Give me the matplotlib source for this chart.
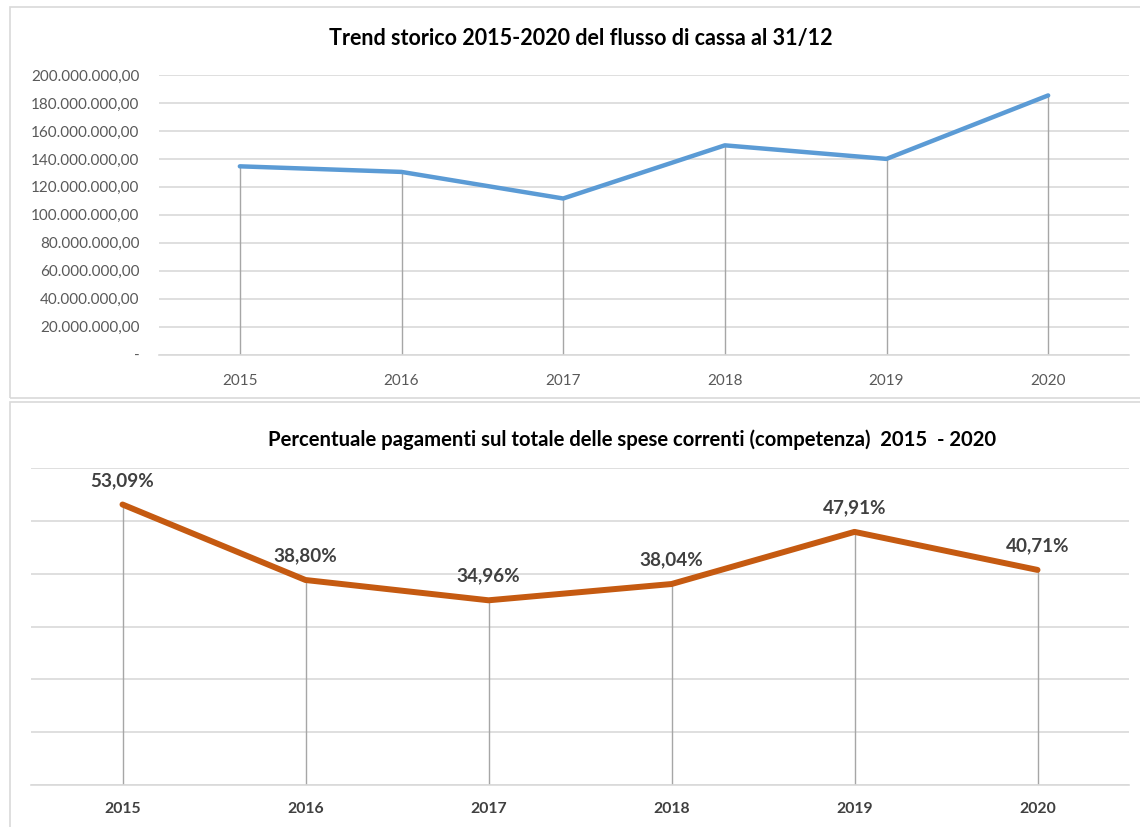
import numpy as np
import matplotlib.pyplot as plt
from matplotlib.patches import Rectangle
from matplotlib.ticker import FuncFormatter

plt.rcParams['font.family'] = ['Lato', 'DejaVu Sans']

# dati
anni = ['2015', '2016', '2017', '2018', '2019', '2020']
flusso_cassa = [134.7e6, 130.7e6, 111.7e6, 149.7e6, 140.0e6, 185.4e6]
perc_pagamenti = [53.09, 38.80, 34.96, 38.04, 47.91, 40.71]
perc_labels = ['53,09%', '38,80%', '34,96%', '38,04%', '47,91%', '40,71%']

W, H = 1140, 827
fig = plt.figure(figsize=(W / 100, H / 100), dpi=100)

def px_axes(left, top, right, bottom):
    return fig.add_axes([left / W, 1 - bottom / H, (right - left) / W, (bottom - top) / H])

def euro_fmt(v, pos):
    if v == 0:
        return '-'
    s = f"{v:,.2f}"
    return s.replace(',', 'X').replace('.', ',').replace('X', '.')

grid_c = '#d9d9d9'
drop_c = '#a6a6a6'

# cornici dei due grafici
fig.patches.append(Rectangle((10 / W, 1 - 398 / H), 1135 / W, 391 / H, transform=fig.transFigure,
                             fill=False, edgecolor=grid_c, linewidth=1.2))
fig.patches.append(Rectangle((10 / W, 1 - 830 / H), 1135 / W, 428 / H, transform=fig.transFigure,
                             fill=False, edgecolor=grid_c, linewidth=1.2))

# --- grafico superiore ---
ax1 = px_axes(159, 75, 1129, 354.7)
x = np.arange(len(anni))
ax1.vlines(x, 0, flusso_cassa, color=drop_c, linewidth=1)
ax1.plot(x, flusso_cassa, color='#5b9bd5', linewidth=3.2, solid_capstyle='round', zorder=3)
ax1.set_xlim(-0.5, len(anni) - 0.5)
ax1.set_ylim(0, 200e6)
ax1.set_yticks(np.arange(0, 200e6 + 1, 20e6))
ax1.yaxis.set_major_formatter(FuncFormatter(euro_fmt))
ax1.set_xticks(x)
ax1.set_xticklabels(anni)
ax1.grid(axis='y', color=grid_c, linewidth=1.2)
ax1.set_axisbelow(True)
for s in ['top', 'right', 'left']:
    ax1.spines[s].set_visible(False)
ax1.spines['bottom'].set_color(grid_c)
ax1.spines['bottom'].set_linewidth(1.2)
ax1.tick_params(axis='both', length=0, labelsize=11, colors='#595959')
ax1.tick_params(axis='y', pad=14)
ax1.tick_params(axis='x', pad=14)
fig.text(581 / W, 1 - 38 / H, 'Trend storico 2015-2020 del flusso di cassa al 31/12',
         ha='center', va='center', fontsize=15.5, fontweight='bold', color='black')

# --- grafico inferiore ---
ax2 = px_axes(31, 468, 1129, 785)
ax2.vlines(x, 0, perc_pagamenti, color=drop_c, linewidth=1)
ax2.plot(x, perc_pagamenti, color='#c55a11', linewidth=4.3, solid_capstyle='round', zorder=3)
for xi, v, lab in zip(x, perc_pagamenti, perc_labels):
    ax2.annotate(lab, (xi, v), xytext=(0, 13.5), textcoords='offset points',
                 ha='center', va='baseline', fontsize=13.6, fontweight='bold', color='#404040')
ax2.set_xlim(-0.5, len(anni) - 0.5)
ax2.set_ylim(0, 60)
ax2.set_yticks(np.arange(0, 61, 10))
ax2.set_yticklabels([])
ax2.set_xticks(x)
ax2.set_xticklabels(anni, fontweight='bold')
ax2.grid(axis='y', color=grid_c, linewidth=1.2)
ax2.set_axisbelow(True)
for s in ['top', 'right', 'left']:
    ax2.spines[s].set_visible(False)
ax2.spines['bottom'].set_color(grid_c)
ax2.spines['bottom'].set_linewidth(1.2)
ax2.tick_params(axis='both', length=0, labelsize=11.3, colors='#404040')
ax2.tick_params(axis='x', pad=12)
fig.text(632 / W, 1 - 440 / H, 'Percentuale pagamenti sul totale delle spese correnti (competenza)  2015  - 2020',
         ha='center', va='center', fontsize=14.6, fontweight='bold', color='black')

fig.savefig('out.png', dpi=100)
